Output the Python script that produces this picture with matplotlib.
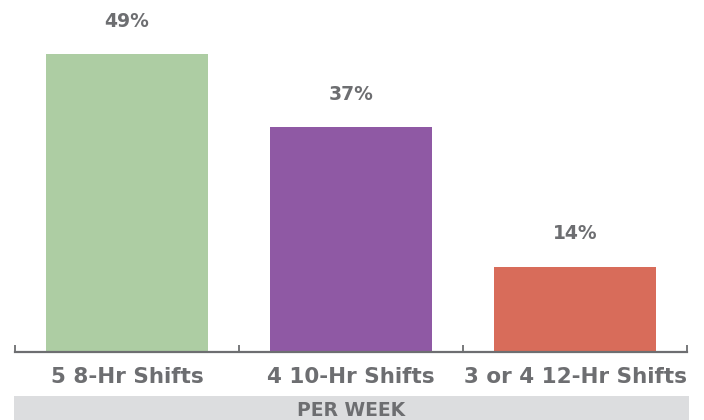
import matplotlib
matplotlib.use('Agg')
import matplotlib.pyplot as plt
from matplotlib.patches import Rectangle

categories = ['5 8-Hr Shifts', '4 10-Hr Shifts', '3 or 4 12-Hr Shifts']
values = [49, 37, 14]
colors = ['#adcda3', '#8f59a4', '#d86c5a']
text_color = '#6d6e71'

plt.rcParams['font.family'] = ['DejaVu Sans']

W, H = 704, 420
fig = plt.figure(figsize=(W / 100, H / 100), dpi=100)

# axes placed in pixel terms: x from 15 to 687, y from 0 to 352 (top-down)
ax = fig.add_axes([15 / W, (H - 352) / H, 672 / W, 352 / H])
x = range(len(categories))
ax.bar(x, values, width=0.72, color=colors)
ax.set_xlim(-0.5, 2.5)
ax.set_ylim(0, 352 / 6.08)

for xi, v in zip(x, values):
    ax.annotate('{}%'.format(v), (xi, v), xytext=(0, 33), textcoords='offset pixels',
                ha='center', va='center', fontsize=13.5, fontweight='bold',
                color=text_color)

for side in ['top', 'left', 'right']:
    ax.spines[side].set_visible(False)
ax.spines['bottom'].set_color(text_color)
ax.spines['bottom'].set_linewidth(1.6)
ax.set_yticks([])
ax.set_xticks(list(x))
ax.set_xticklabels(categories, fontsize=15.5, fontweight='bold', color=text_color)
ax.tick_params(axis='x', which='major', length=0, pad=11)
ax.set_xticks([-0.5, 0.5, 1.5, 2.5], minor=True)
ax.tick_params(axis='x', which='minor', direction='in', length=5, width=1.3,
               color=text_color)

# "per week" band under the labels
fig.patches.append(Rectangle((14 / W, 0), 675 / W, 24 / H, transform=fig.transFigure,
                             facecolor='#dcdddf', edgecolor='none'))
fig.text(351 / W, 10 / H, 'PER WEEK', ha='center', va='center', fontsize=13.5,
         fontweight='bold', color=text_color)

fig.savefig('out.png', dpi=100)
